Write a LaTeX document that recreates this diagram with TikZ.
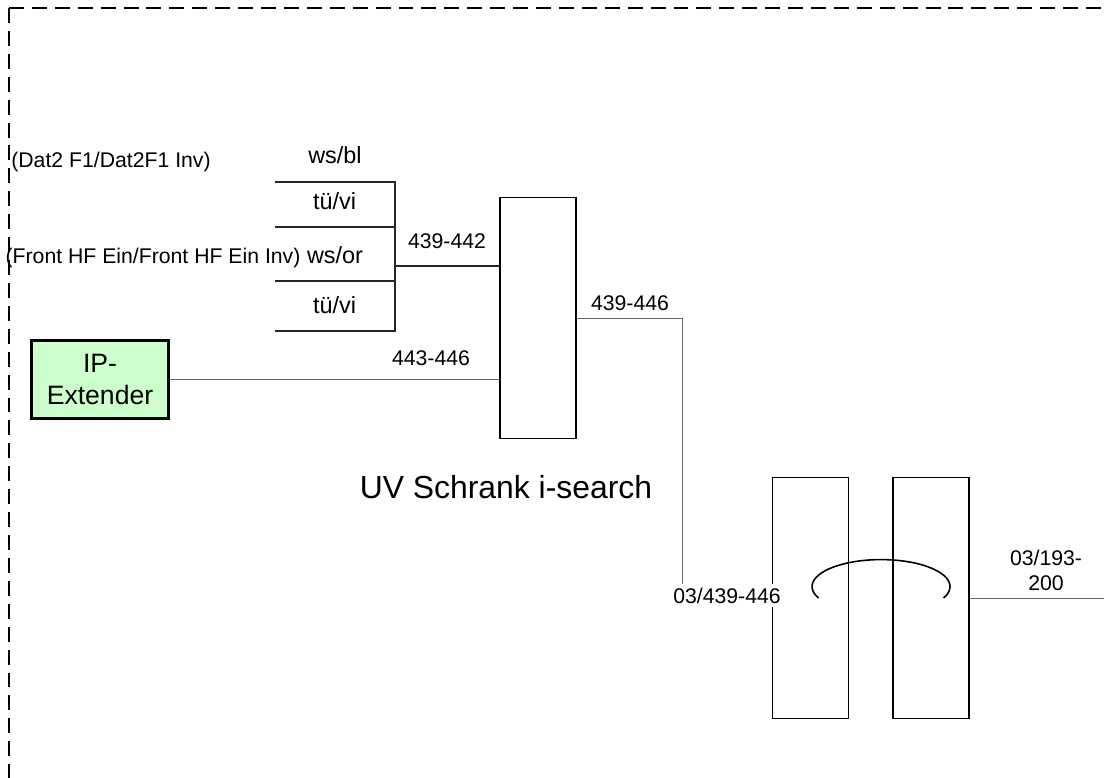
\documentclass[tikz,border=0pt]{standalone}
\usepackage{fontspec}
\setmainfont{Liberation Sans}
\usepackage{tikz}
\usetikzlibrary{calc}
\definecolor{ipgreen}{HTML}{CCFFCC}
\tikzstyle{line} = [line width=1.4pt,black!85!white]
\tikzstyle{thin line} = [line width=1pt,black!60!white]
\tikzstyle{frame} = [line width=1.6pt,dash pattern=on 15pt off 8pt]
\tikzstyle{label} = [inner sep=0pt,anchor=base,font=\fontsize{21.3}{25.6}\selectfont,align=center]
\tikzstyle{wire label} = [inner sep=0pt,anchor=base,font=\fontsize{23.5}{28}\selectfont]
\tikzstyle{panel} = [draw,line width=1.6pt,fill=none,minimum width=76pt,minimum height=242pt,inner sep=0pt]
\tikzstyle{extender} = [draw,line width=3pt,fill=ipgreen,minimum width=138pt,minimum height=78pt,inner sep=0pt,align=center,font=\fontsize{26.7}{32}\selectfont]

\begin{document}
\begin{tikzpicture}[x=1bp,y=-1bp]
        \useasboundingbox (0,0) rectangle (1104,778);
        % outer dashed frame
        \coordinate (corner) at (9,8);
        \coordinate (topend) at (1104,8);
        \coordinate (leftend) at (9,778);
        \draw[frame] (corner) -- (topend) (corner) -- (leftend);

        % panels and box
        \node[panel] (uv) at (538,318) {};
        \node[panel] (splicea) at (810.5,598) {};
        \node[panel] (spliceb) at (931,598) {};
        \node[extender] (ipext) at (100,379.5) {IP-\\Extender};

        % draw wire stubs
        \coordinate (stuba) at (275,182);
        \coordinate (stubb) at (275,227);
        \coordinate (stubc) at (275,281);
        \coordinate (stubd) at (275,331);
        \coordinate (busa) at (395,182);
        \coordinate (busb) at (395,227);
        \coordinate (busc) at (395,281);
        \coordinate (busd) at (395,331);
        \coordinate (busout) at (395,266);
        \coordinate (outend) at (1104,598);
        \coordinate (bend) at (682,318);
        \draw[line] (stuba) -- (busa) -- (busd) -- (stubd);
        \draw[line] (stubb) -- (busb);
        \draw[line] (stubc) -- (busc);
        \draw[line] (busout) -- (busout -| uv.west);

        % draw connections
        \draw[thin line] (ipext.east) -- (ipext.east -| uv.west);
        \draw[thin line] (bend -| uv.east) -- (bend) -- (bend |- splicea.west) -- (splicea.west);
        \draw[thin line] (spliceb.east) -- (outend);

        % draw arc over the two panels
        \coordinate (arcstart) at (818.5,598);
        \draw[line width=1.6pt] (arcstart) arc[start angle=205,end angle=-25,x radius=69bp,y radius=27bp];

        % draw labels
        \node[label] (datlabel) at (111,167) {(Dat2 F1/Dat2F1 Inv)};
        \node[label] (frontlabel) at (153,263) {(Front HF Ein/Front HF Ein Inv)};
        \node[wire label] (wsbl) at (335,163) {ws/bl};
        \node[wire label] (tuvia) at (334.5,209) {tü/vi};
        \node[wire label] (wsor) at (335,263) {ws/or};
        \node[wire label] (tuvib) at (334.5,313) {tü/vi};
        \node[label] (rangea) at (447,248) {439-442};
        \node[label] (rangeb) at (431,365) {443-446};
        \node[label] (rangec) at (630,310) {439-446};
        \node[label,fill=white,inner xsep=1pt,inner ysep=4pt] (ranged) at (727,603) {03/439-446};
        \node[label] (rangee) at (1046,590.5) {03/193-\\200};
        \node[inner sep=0pt,anchor=base,font=\fontsize{32}{38}\selectfont] (uvlabel) at (506,498) {UV Schrank i-search};
\end{tikzpicture}
\end{document}
